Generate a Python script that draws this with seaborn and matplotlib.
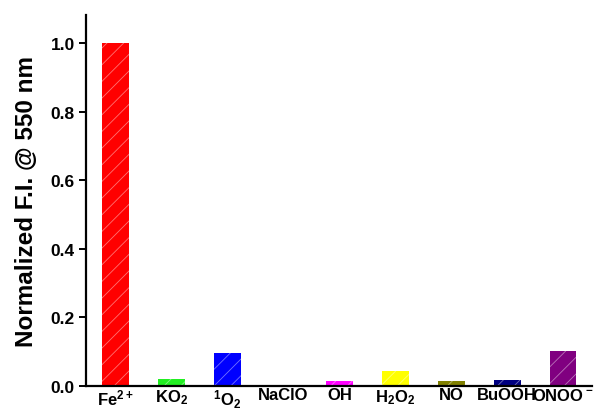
import pandas as pd
import matplotlib
matplotlib.use('Agg')
import matplotlib.pyplot as plt
import matplotlib.colors as mcolors
import seaborn as sns

# data
analytes = ['Fe$^{2+}$', 'KO$_2$', '$^1$O$_2$', 'NaClO', 'OH',
            'H$_2$O$_2$', 'NO', 'BuOOH', 'ONOO$^-$']
intensity = [1.0, 0.02, 0.096, 0.0, 0.015, 0.044, 0.016, 0.017, 0.102]
bar_colors = ['#ff0000', '#22ee22', '#0000ff', '#00c0c0', '#ff00ff',
              '#ffff00', '#808000', '#000080', '#800080']
yticks = [0.0, 0.2, 0.4, 0.6, 0.8, 1.0]

sns.set_style('white')
plt.rcParams['font.family'] = ['Liberation Sans', 'DejaVu Sans']
plt.rcParams['font.weight'] = 'bold'
plt.rcParams['text.color'] = 'black'
plt.rcParams['axes.labelcolor'] = 'black'
plt.rcParams['xtick.color'] = 'black'
plt.rcParams['ytick.color'] = 'black'
plt.rcParams['mathtext.fontset'] = 'custom'
plt.rcParams['mathtext.rm'] = 'Liberation Sans:bold'
plt.rcParams['mathtext.it'] = 'Liberation Sans:bold'
plt.rcParams['mathtext.bf'] = 'Liberation Sans:bold'
plt.rcParams['hatch.linewidth'] = 0.6

df = pd.DataFrame({'analyte': analytes, 'fi': intensity})

fig = plt.figure(figsize=(6.03, 4.10), dpi=100)
ax = fig.add_axes([0.1426, 0.056, 0.8394, 0.905])

sns.barplot(data=df, x='analyte', y='fi', hue='analyte', palette=bar_colors,
            legend=False, width=0.48, ax=ax, saturation=1)

# light diagonal hatch like the original
for patch, c in zip(ax.patches, bar_colors):
    rgb = mcolors.to_rgb(c)
    light = tuple(v + (1 - v) * 0.45 for v in rgb)
    patch.set_facecolor(c)
    patch.set_edgecolor(light)
    patch.set_hatch('//')
    patch.set_linewidth(0)

ax.set_xlim(-0.53, 8.52)
ax.set_ylim(0, 1.082)
ax.set_yticks(yticks)
ax.set_yticklabels([f'{t:.1f}' for t in yticks])

for side in ['top', 'right']:
    ax.spines[side].set_visible(False)
for side in ['left', 'bottom']:
    ax.spines[side].set_color('black')
    ax.spines[side].set_linewidth(1.6)

ax.tick_params(axis='y', direction='out', length=5, width=1.4, labelsize=12.5,
               left=True, pad=3)
ax.tick_params(axis='x', length=0, labelsize=12, pad=1)
for lab in ax.get_xticklabels() + ax.get_yticklabels():
    lab.set_fontweight('bold')

ax.set_xlabel('')
ax.set_ylabel('Normalized F.I. @ 550 nm', fontsize=17.5, fontweight='bold',
              labelpad=9)

fig.savefig('out.png', dpi=100)
